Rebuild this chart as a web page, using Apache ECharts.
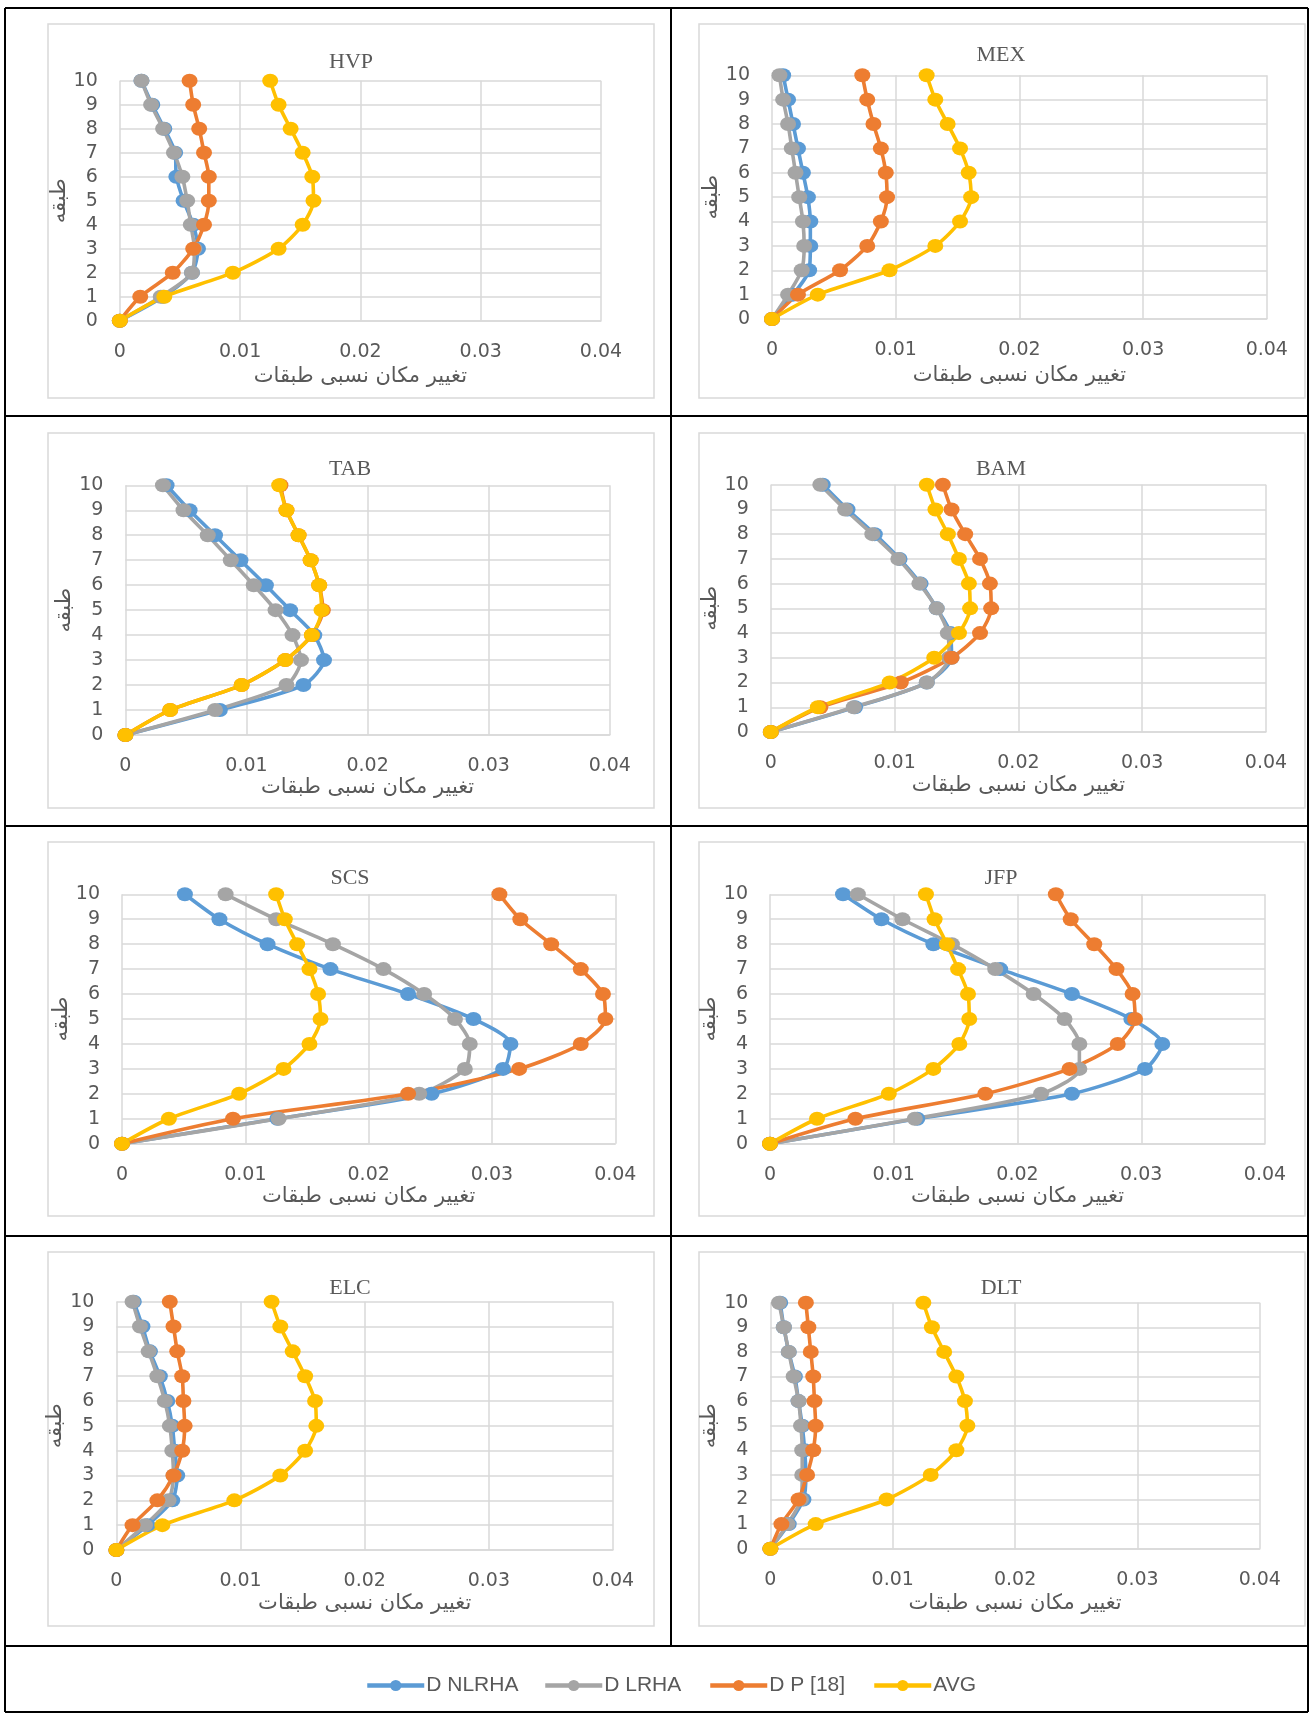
<!DOCTYPE html>
<html><head><meta charset="utf-8">
<script src="https://cdn.jsdelivr.net/npm/echarts@6/dist/echarts.min.js"></script>
<style>html,body{margin:0;padding:0;background:#fff}#c{width:1310px;height:1714px}</style>
</head><body><div id="c"></div>
<script>
// ---------- data ----------
const floors = [0,1,2,3,4,5,6,7,8,9,10];
const xTickLabels = ['0','0.01','0.02','0.03','0.04'];
const yTickLabels = ['0','1','2','3','4','5','6','7','8','9','10'];
const seriesNames = ['D NLRHA','D LRHA','D P [18]','AVG'];
const panelTitles = ['HVP','MEX','TAB','BAM','SCS','JFP','ELC','DLT'];
const xAxisTitle = 'تغییر مکان نسبی طبقات';
const yAxisTitle = 'طبقه';

const HVP_NLRHA = [0,0.0036,0.0060,0.0065,0.0061,0.0053,0.0047,0.0046,0.0037,0.0027,0.0018];
const HVP_LRHA  = [0,0.0034,0.0060,0.0062,0.0059,0.0056,0.0052,0.0045,0.0036,0.0026,0.0018];
const HVP_DP18  = [0,0.0017,0.0044,0.0061,0.0070,0.0074,0.0074,0.0070,0.0066,0.0061,0.0058];
const HVP_AVG   = [0,0.0037,0.0094,0.0132,0.0152,0.0161,0.0160,0.0152,0.0142,0.0132,0.0125];

const MEX_NLRHA = [0,0.0017,0.0030,0.0031,0.0031,0.0029,0.0025,0.0021,0.0017,0.0013,0.0009];
const MEX_LRHA  = [0,0.0013,0.0024,0.0026,0.0025,0.0022,0.0019,0.0016,0.0013,0.0009,0.0006];
const MEX_DP18  = [0,0.0021,0.0055,0.0077,0.0088,0.0093,0.0092,0.0088,0.0082,0.0077,0.0073];
const MEX_AVG   = [0,0.0037,0.0095,0.0132,0.0152,0.0161,0.0159,0.0152,0.0142,0.0132,0.0125];

const TAB_NLRHA = [0,0.0078,0.0147,0.0164,0.0156,0.0136,0.0116,0.0095,0.0074,0.0053,0.0034];
const TAB_LRHA  = [0,0.0074,0.0133,0.0145,0.0138,0.0124,0.0106,0.0087,0.0068,0.0048,0.0031];
const TAB_DP18  = [0,0.0037,0.0096,0.0132,0.0154,0.0163,0.0160,0.0153,0.0143,0.0133,0.0128];
const TAB_AVG   = [0,0.0037,0.0096,0.0132,0.0154,0.0162,0.0160,0.0153,0.0143,0.0133,0.0127];

const BAM_NLRHA = [0,0.0068,0.0126,0.0146,0.0145,0.0134,0.0121,0.0104,0.0084,0.0062,0.0042];
const BAM_LRHA  = [0,0.0067,0.0126,0.0144,0.0143,0.0134,0.0120,0.0103,0.0082,0.0060,0.0040];
const BAM_DP18  = [0,0.0040,0.0105,0.0146,0.0169,0.0178,0.0177,0.0169,0.0157,0.0146,0.0139];
const BAM_AVG   = [0,0.0038,0.0096,0.0132,0.0152,0.0161,0.0160,0.0152,0.0143,0.0133,0.0126];

const SCS_NLRHA = [0,0.0126,0.0251,0.0309,0.0315,0.0285,0.0232,0.0169,0.0118,0.0079,0.0051];
const SCS_LRHA  = [0,0.0127,0.0241,0.0278,0.0282,0.0270,0.0245,0.0212,0.0171,0.0125,0.0084];
const SCS_DP18  = [0,0.0090,0.0232,0.0322,0.0372,0.0392,0.0390,0.0372,0.0348,0.0323,0.0306];
const SCS_AVG   = [0,0.0038,0.0095,0.0131,0.0152,0.0161,0.0159,0.0152,0.0142,0.0132,0.0125];

const JFP_NLRHA = [0,0.0119,0.0244,0.0303,0.0317,0.0292,0.0244,0.0186,0.0132,0.0090,0.0059];
const JFP_LRHA  = [0,0.0117,0.0219,0.0250,0.0250,0.0238,0.0213,0.0182,0.0147,0.0107,0.0071];
const JFP_DP18  = [0,0.0069,0.0174,0.0242,0.0281,0.0295,0.0293,0.0280,0.0262,0.0243,0.0231];
const JFP_AVG   = [0,0.0038,0.0096,0.0132,0.0153,0.0161,0.0160,0.0152,0.0143,0.0133,0.0126];

const ELC_NLRHA = [0,0.0025,0.0045,0.0049,0.0047,0.0045,0.0041,0.0035,0.0027,0.0021,0.0014];
const ELC_LRHA  = [0,0.0023,0.0042,0.0046,0.0045,0.0043,0.0039,0.0033,0.0026,0.0019,0.0013];
const ELC_DP18  = [0,0.0013,0.0033,0.0046,0.0053,0.0055,0.0054,0.0053,0.0049,0.0046,0.0043];
const ELC_AVG   = [0,0.0037,0.0095,0.0132,0.0152,0.0161,0.0160,0.0152,0.0142,0.0132,0.0125];

const DLT_NLRHA = [0,0.0015,0.0027,0.0029,0.0028,0.0026,0.0023,0.0020,0.0015,0.0011,0.0008];
const DLT_LRHA  = [0,0.0014,0.0025,0.0026,0.0026,0.0025,0.0023,0.0019,0.0015,0.0011,0.0007];
const DLT_DP18  = [0,0.0009,0.0023,0.0030,0.0035,0.0037,0.0036,0.0035,0.0033,0.0031,0.0029];
const DLT_AVG   = [0,0.0037,0.0095,0.0131,0.0152,0.0161,0.0159,0.0152,0.0142,0.0132,0.0125];

const panelData = [
  [HVP_NLRHA,HVP_LRHA,HVP_DP18,HVP_AVG],
  [MEX_NLRHA,MEX_LRHA,MEX_DP18,MEX_AVG],
  [TAB_NLRHA,TAB_LRHA,TAB_DP18,TAB_AVG],
  [BAM_NLRHA,BAM_LRHA,BAM_DP18,BAM_AVG],
  [SCS_NLRHA,SCS_LRHA,SCS_DP18,SCS_AVG],
  [JFP_NLRHA,JFP_LRHA,JFP_DP18,JFP_AVG],
  [ELC_NLRHA,ELC_LRHA,ELC_DP18,ELC_AVG],
  [DLT_NLRHA,DLT_LRHA,DLT_DP18,DLT_AVG]
];

// ---------- layout & style ----------
const colors = ['#5B9BD5','#A5A5A5','#ED7D31','#FFC000'];
const layout = [
  {grid:[119.8,80.7,481.2,240],   title:[351,62],   box:[48,24,606,374],   xGap:45, yGap:37},
  {grid:[772,75.3,494.8,243.7],   title:[1001,55],  box:[699,24,606,374],  xGap:46, yGap:35},
  {grid:[125.4,485.3,484.4,249.7],title:[350,469],  box:[48,433,606,375],  xGap:38, yGap:36},
  {grid:[770.8,484.7,495.2,247.3],title:[1001,469], box:[699,433,606,375], xGap:43, yGap:35},
  {grid:[122,894.3,493.3,249.4],  title:[350,878],  box:[48,842,606,374],  xGap:41, yGap:34},
  {grid:[770,894.3,495,249.4],    title:[1001,878], box:[699,842,606,374], xGap:39, yGap:35},
  {grid:[116.4,1301.7,496.6,248.3],title:[350,1288],box:[48,1252,606,374], xGap:43, yGap:28},
  {grid:[770.4,1302.7,489.4,246], title:[1001,1288],box:[699,1252,606,374],xGap:44, yGap:35}
];
const gray = '#595959';
const gridCol = '#d9d9d9';

const grids = [], xAxes = [], yAxes = [], series = [], graphics = [];

layout.forEach((L, i) => {
  grids.push({left:L.grid[0], top:L.grid[1], width:L.grid[2], height:L.grid[3], containLabel:false});
  xAxes.push({
    type:'value', gridIndex:i, min:0, max:0.04, interval:0.01,
    name:xAxisTitle, nameLocation:'middle', nameGap:L.xGap,
    nameTextStyle:{fontFamily:'DejaVu Sans', fontSize:21, color:gray},
    axisLine:{show:true, lineStyle:{color:gridCol, width:1.5}},
    axisTick:{show:false},
    axisLabel:{margin:22, fontFamily:'DejaVu Sans', fontSize:19, color:gray,
      formatter:v => xTickLabels[Math.round(v/0.01)]},
    splitLine:{show:true, lineStyle:{color:gridCol, width:1.5}}
  });
  yAxes.push({
    type:'value', gridIndex:i, min:0, max:10, interval:1,
    name:yAxisTitle, nameLocation:'middle', nameGap:L.yGap,
    nameTextStyle:{fontFamily:'DejaVu Sans', fontSize:21, color:gray},
    axisLine:{show:false}, axisTick:{show:false},
    axisLabel:{margin:22, fontFamily:'DejaVu Sans', fontSize:19, color:gray,
      formatter:v => yTickLabels[Math.round(v)]},
    splitLine:{show:true, lineStyle:{color:gridCol, width:1.5}}
  });
  panelData[i].forEach((arr, s) => {
    series.push({
      type:'line', name:seriesNames[s], xAxisIndex:i, yAxisIndex:i,
      data: floors.map((f, k) => [arr[k], f]),
      smooth:0.25, symbol:'circle', symbolSize:[16,14], showAllSymbol:true,
      lineStyle:{color:colors[s], width:3.6},
      itemStyle:{color:colors[s]},
      clip:false
    });
  });
  graphics.push({type:'rect', silent:true, z:-10,
    shape:{x:L.box[0], y:L.box[1], width:L.box[2], height:L.box[3]},
    style:{fill:'none', stroke:'#d9d9d9', lineWidth:1.5}});
  graphics.push({type:'text', silent:true, x:L.title[0], y:L.title[1],
    style:{text:panelTitles[i], textAlign:'center', textVerticalAlign:'middle',
      font:'22px "Liberation Serif", serif', fill:gray}});
});

// black table borders
const blk = {stroke:'#000', lineWidth:2};
[[5,8,1308,8],[5,1712,1308,1712],[5,8,5,1712],[1308,8,1308,1712],[671,8,671,1646],
 [5,416,1308,416],[5,826,1308,826],[5,1236,1308,1236],[5,1646,1308,1646]].forEach(l => {
  graphics.push({type:'line', silent:true, z:50, shape:{x1:l[0],y1:l[1],x2:l[2],y2:l[3]}, style:blk});
});

const legendLefts = [360, 538, 703, 867];
const legends = seriesNames.map((n, k) => ({
  data:[n], left:legendLefts[k], top:1670, itemWidth:57, itemHeight:14, itemGap:0,
  lineStyle:{width:4.5},
  textStyle:{fontFamily:'"Liberation Sans", sans-serif', fontSize:21, color:gray, padding:[0,0,0,-3]},
  selectedMode:false
}));

const chart = echarts.init(document.getElementById('c'), null, {renderer:'canvas'});
chart.setOption({
  animation:false,
  backgroundColor:'#fff',
  grid:grids, xAxis:xAxes, yAxis:yAxes, series:series,
  legend:legends,
  graphic:graphics
});
</script></body></html>
